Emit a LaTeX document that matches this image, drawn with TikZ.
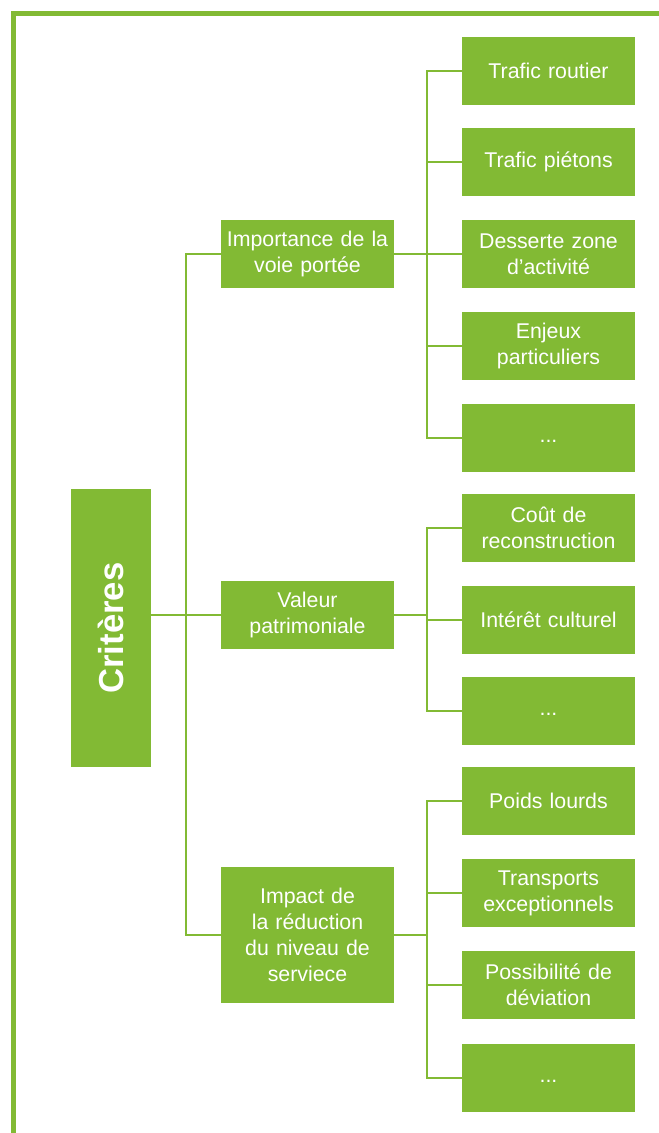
\documentclass[tikz,border=0pt]{standalone}
\usepackage{fontspec}
\setmainfont{Liberation Sans}
\definecolor{vert}{RGB}{130,186,52}
\begin{document}
\begin{tikzpicture}[x=0.75pt,y=-0.75pt,
  box/.style={fill=vert,draw=none,inner sep=0pt,align=center,text=white,
    font=\fontsize{16}{19.5}\selectfont,text width=125pt},
  lvl/.style={box,minimum width=129.75pt,minimum height=51pt},
  link/.style={draw=vert,line width=1.5pt}]
\useasboundingbox (0,0) rectangle (659,1133);
\draw[draw=vert,line width=3.4pt] (13.5,1133) -- (13.5,13.5) -- (659,13.5);
% root
\node[fill=vert,inner sep=0pt,minimum width=60pt,minimum height=208.5pt] (crit) at (111,628) {};
\node[rotate=90,text=white,font=\fontsize{26}{30}\selectfont\bfseries] (critl) at (crit.center) {Critères};
% level 2
\node[lvl] (imp) at (307.5,254) {Importance de la\\voie portée};
\node[lvl] (val) at (307.5,615) {Valeur\\patrimoniale};
\node[lvl,minimum height=102pt] (red) at (307.5,935) {Impact de\\la réduction\\du niveau de\\serviece};
% leaves group 1
\node[lvl] (a1) at (548.5,70.5) {Trafic routier};
\node[lvl] (a2) at (548.5,162) {Trafic piétons};
\node[lvl] (a3) at (548.5,254) {Desserte zone\\d’activité};
\node[lvl] (a4) at (548.5,346) {Enjeux\\particuliers};
\node[lvl] (a5) at (548.5,437.5) {\strut...};
% group 2
\node[lvl] (b1) at (548.5,528) {Coût de\\reconstruction};
\node[lvl] (b2) at (548.5,619.5) {Intérêt culturel};
\node[lvl] (b3) at (548.5,710.5) {\strut...};
% group 3
\node[lvl] (c1) at (548.5,801) {Poids lourds};
\node[lvl] (c2) at (548.5,893) {Transports\\exceptionnels};
\node[lvl] (c3) at (548.5,985) {Possibilité de\\déviation};
\node[lvl] (c4) at (548.5,1077.5) {\strut...};
% buses
\coordinate (t) at (186,0);
\coordinate (b) at (427,0);
\draw[link] (crit.east |- val.west) -- (val.west);
\draw[link] (imp.west) -- (imp.west -| t) -- (red.west -| t) -- (red.west);
\draw[link] (imp.east) -- (imp.east -| b);
\draw[link] (a1.west) -- (a1.west -| b) -- (a5.west -| b) -- (a5.west);
\foreach \n in {a2,a3,a4} \draw[link] (\n.west) -- (\n.west -| b);
\draw[link] (val.east) -- (val.east -| b);
\draw[link] (b1.west) -- (b1.west -| b) -- (b3.west -| b) -- (b3.west);
\draw[link] (b2.west) -- (b2.west -| b);
\draw[link] (red.east) -- (red.east -| b);
\draw[link] (c1.west) -- (c1.west -| b) -- (c4.west -| b) -- (c4.west);
\foreach \n in {c2,c3} \draw[link] (\n.west) -- (\n.west -| b);
\end{tikzpicture}
\end{document}
